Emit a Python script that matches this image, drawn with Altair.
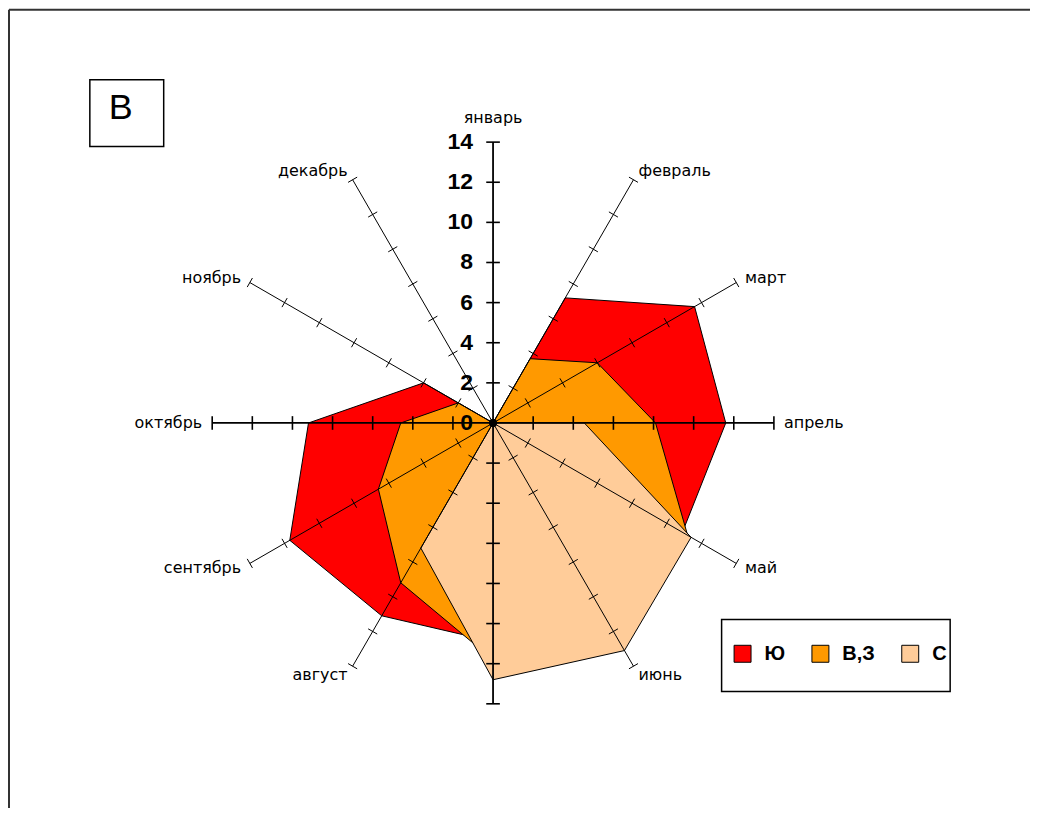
import math
import altair as alt
import pandas as pd

# ---------------- data ----------------
months = ["январь", "февраль", "март", "апрель", "май", "июнь",
          "июль", "август", "сентябрь", "октябрь", "ноябрь", "декабрь"]
month_labels = ["январь", "февраль", "март", "апрель", "май", "июнь",
                "", "август", "сентябрь", "октябрь", "ноябрь", "декабрь"]
series_names = ["Ю", "В,З", "С"]
series_colors = ["#FF0000", "#FF9900", "#FFCC99"]
values_south = [0, 7.2, 11.6, 11.6, 10.9, 10.0, 10.9, 11.1, 11.7, 9.2, 4.0, 0]
values_east_west = [0, 3.7, 6.0, 8.1, 11.2, 11.0, 11.8, 9.2, 6.6, 4.6, 2.0, 0]
values_north = [0, 0, 0, 4.55, 11.4, 13.1, 12.8, 7.2, 0, 0, 0, 0]
radial_ticks = [0, 2, 4, 6, 8, 10, 12, 14]
r_max = 14
panel_letter = "В"

# ---------------- layout ----------------
W, H = 1020, 796
PAD = 4
CX, CY = 482.0, 411.0     # centre of the radar in plot pixels
K = 20.1                  # pixels per unit
xs = alt.Scale(domain=[-CX / K, (W - CX) / K], nice=False, zero=False)
ys = alt.Scale(domain=[-(H - CY) / K, CY / K], nice=False, zero=False)


def ang(i):
    return math.radians(30 * i)


# polygons
rows = []
for name, vals in zip(series_names, [values_south, values_east_west, values_north]):
    for i, (m, v) in enumerate(zip(months, vals)):
        rows.append(dict(series=name, idx=i, month=m, r=v,
                         x=v * math.sin(ang(i)), y=v * math.cos(ang(i))))
poly = pd.DataFrame(rows)

# spokes
spk = pd.DataFrame([dict(idx=i, main=(i % 3 == 0), x0=0.0, y0=0.0,
                         x1=r_max * math.sin(ang(i)), y1=r_max * math.cos(ang(i)))
                    for i in range(12)])

# tick marks on spokes
tk_rows = []
for i in range(12):
    th = ang(i)
    main = (i % 3 == 0)
    h = 0.34 if main else 0.26
    px, py = math.cos(th), -math.sin(th)
    for r in radial_ticks[1:]:
        cx_, cy_ = r * math.sin(th), r * math.cos(th)
        tk_rows.append(dict(main=main, x0=cx_ - h * px, y0=cy_ - h * py,
                            x1=cx_ + h * px, y1=cy_ + h * py))
tk = pd.DataFrame(tk_rows)

# month labels
lab_rows = []
for i, lab in enumerate(month_labels):
    th = ang(i)
    s = math.sin(th)
    lr = 15.2 if i == 0 else 14.5
    al = "left" if s > 0.01 else ("right" if s < -0.01 else "center")
    lab_rows.append(dict(label=lab, al=al, x=lr * s, y=lr * math.cos(th)))
labs = pd.DataFrame(lab_rows)

rad = pd.DataFrame({"r": radial_ticks, "x": [0.0] * len(radial_ticks)})
rad["txt"] = rad["r"].astype(str)

X = lambda f: alt.X(f, scale=xs, axis=None)
Y = lambda f: alt.Y(f, scale=ys, axis=None)

layers = []

one = pd.DataFrame({"a": [0]})
# outer frame (top and left)
layers.append(alt.Chart(one).mark_rule(color="#333333", strokeWidth=2).encode(
    x=alt.value(-3), x2=alt.value(W + 10), y=alt.value(-3)))
layers.append(alt.Chart(one).mark_rule(color="#333333", strokeWidth=2).encode(
    x=alt.value(-3), y=alt.value(-3), y2=alt.value(H + 10)))

# polygons: back to front
for name, col in zip(series_names, series_colors):
    layers.append(
        alt.Chart(poly).transform_filter(alt.datum.series == name)
        .mark_line(interpolate="linear-closed", fill=col, stroke="black",
                   strokeWidth=1, strokeJoin="miter")
        .encode(x=X("x:Q"), y=Y("y:Q"), order=alt.Order("idx:Q"))
    )

# spokes
layers.append(alt.Chart(spk).transform_filter("datum.main").mark_rule(
    color="black", strokeWidth=1.8).encode(
    x=X("x0:Q"), y=Y("y0:Q"), x2="x1:Q", y2="y1:Q"))
layers.append(alt.Chart(spk).transform_filter("!datum.main").mark_rule(
    color="black", strokeWidth=1).encode(
    x=X("x0:Q"), y=Y("y0:Q"), x2="x1:Q", y2="y1:Q"))
layers.append(alt.Chart(tk).transform_filter("datum.main").mark_rule(
    color="black", strokeWidth=1.6).encode(
    x=X("x0:Q"), y=Y("y0:Q"), x2="x1:Q", y2="y1:Q"))
layers.append(alt.Chart(tk).transform_filter("!datum.main").mark_rule(
    color="black", strokeWidth=1).encode(
    x=X("x0:Q"), y=Y("y0:Q"), x2="x1:Q", y2="y1:Q"))

# centre dot
layers.append(alt.Chart(one).mark_circle(color="black", opacity=1, size=70).encode(
    x=X("x:Q"), y=Y("y:Q")).transform_calculate(x="0", y="0"))

# month labels
for al in ["left", "right", "center"]:
    layers.append(
        alt.Chart(labs).transform_filter(alt.datum.al == al)
        .mark_text(align=al, baseline="middle", font="DejaVu Sans", fontSize=16, color="black")
        .encode(x=X("x:Q"), y=Y("y:Q"), text="label:N")
    )

# radial labels
layers.append(
    alt.Chart(rad).mark_text(align="right", baseline="middle", dx=-20,
                             font="Liberation Sans", fontSize=23, fontWeight="bold", color="black")
    .encode(x=X("x:Q"), y=Y("r:Q"), text="txt:N")
)

# panel letter box
layers.append(alt.Chart(one).mark_rect(fill="white", stroke="black", strokeWidth=1.5).encode(
    x=alt.value(78), x2=alt.value(152), y=alt.value(67), y2=alt.value(134)))
layers.append(alt.Chart(one).mark_text(font="Liberation Sans", fontSize=36, color="black",
                                        align="center", baseline="middle").encode(
    x=alt.value(109), y=alt.value(95), text=alt.value(panel_letter)))

# legend box
layers.append(alt.Chart(one).mark_rect(fill="white", stroke="black", strokeWidth=1.5).encode(
    x=alt.value(711), x2=alt.value(940), y=alt.value(608), y2=alt.value(680)))

# legend
leg = pd.DataFrame({"series": series_names})
layers.append(
    alt.Chart(leg).mark_square(opacity=0).encode(
        x=alt.value(0), y=alt.value(0),
        fill=alt.Fill("series:N", sort=series_names,
                      scale=alt.Scale(domain=series_names, range=series_colors),
                      legend=alt.Legend(orient="none", legendX=722, legendY=632,
                                        direction="horizontal", title=None,
                                        symbolType="square", symbolSize=289,
                                        symbolStrokeColor="black", symbolStrokeWidth=1,
                                        symbolOpacity=1, labelFont="Liberation Sans",
                                        labelFontSize=20, labelFontWeight="bold",
                                        labelColor="black", labelOffset=12,
                                        columnPadding=24, padding=0, labelLimit=0))
    )
)

chart = alt.layer(*layers).properties(
    width=W, height=H, autosize=alt.AutoSizeParams(type="none"),
    padding={"left": PAD, "top": PAD, "right": 0, "bottom": 0}
).configure_view(stroke=None)

chart.save("out.html", embed_options={"renderer": "svg", "actions": False})
